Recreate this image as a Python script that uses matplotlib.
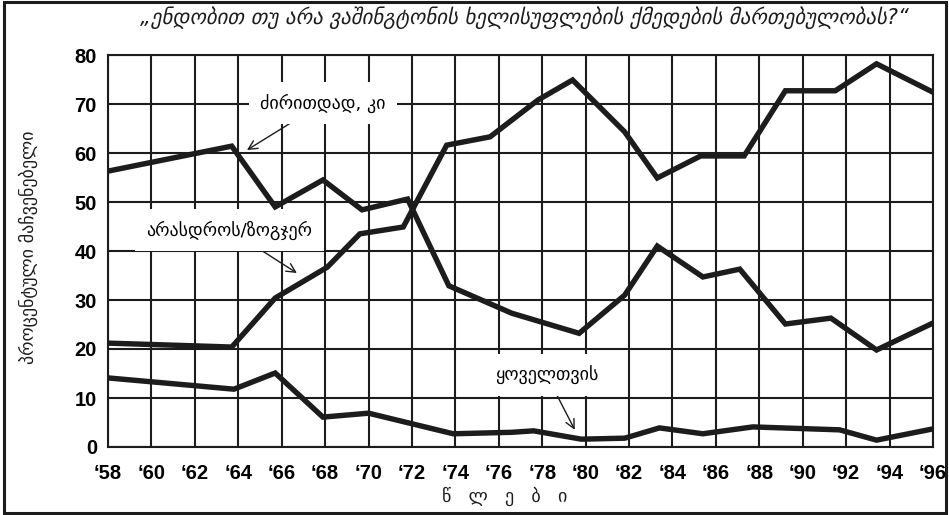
import matplotlib.pyplot as plt
from matplotlib.patches import Rectangle

# "ძირითდად, კი" (mostly yes)
kirit_x = [58, 63.7, 65.7, 67.9, 69.7, 71.8, 73.7, 76.6, 79.7, 81.8, 83.3, 85.4, 87.1, 89.2, 91.3, 93.4, 96]
kirit_y = [56.3, 61.4, 49.0, 54.5, 48.4, 50.6, 32.9, 27.3, 23.2, 31.0, 41.0, 34.7, 36.3, 25.1, 26.3, 19.8, 25.3]

# "არასდროს/ზოგჯერ" (never/sometimes)
aras_x = [58, 63.7, 65.7, 68.1, 69.6, 71.6, 73.6, 75.6, 77.8, 79.4, 81.8, 83.3, 85.3, 87.3, 89.2, 91.5, 93.4, 96]
aras_y = [21.2, 20.4, 30.4, 36.7, 43.5, 44.9, 61.6, 63.3, 70.8, 74.9, 64.3, 54.9, 59.4, 59.4, 72.7, 72.7, 78.2, 72.4]

# "ყოველთვის" (always)
yov_x = [58, 63.8, 65.7, 67.9, 70.0, 73.9, 76.6, 77.6, 79.8, 81.8, 83.4, 85.4, 87.7, 91.7, 93.4, 96]
yov_y = [14.1, 11.8, 15.1, 6.1, 6.9, 2.7, 3.0, 3.3, 1.6, 1.8, 3.9, 2.7, 4.1, 3.5, 1.4, 3.7]

years = list(range(58, 97, 2))
year_labels = ["\u2018%d" % y for y in years]
yticks = list(range(0, 81, 10))

title = "\u201eენდობით თუ არა ვაშინგტონის ხელისუფლების ქმედების მართებულობას?\u201c"
ylabel = "პროცენტული მაჩვენებელი"
xlabel = "წ   ლ   ე   ბ   ი"

ink = "#1c1c1c"

fig = plt.figure(figsize=(9.49, 5.15), dpi=100)
ax = fig.add_axes([108 / 949, 1 - 447 / 515, 825 / 949, 392 / 515])

for xs, ys in [(kirit_x, kirit_y), (aras_x, aras_y), (yov_x, yov_y)]:
    ax.plot(xs, ys, color=ink, lw=3.9, solid_joinstyle="miter", zorder=4)

ax.set_xlim(58, 96)
ax.set_ylim(0, 80)
ax.set_xticks(years)
ax.set_xticklabels(year_labels)
ax.set_yticks(yticks)
ax.grid(True, color=ink, lw=1.5)
ax.set_axisbelow(True)
ax.tick_params(length=0, labelsize=14.5)
ax.tick_params(axis="x", pad=12)
ax.tick_params(axis="y", pad=8)
for lab in ax.get_xticklabels() + ax.get_yticklabels():
    lab.set_fontweight("bold")
    lab.set_family("Liberation Sans")
for s in ax.spines.values():
    s.set_color(ink)
    s.set_linewidth(1.5)

box = dict(facecolor="white", edgecolor="none", pad=8)
arrow = dict(arrowstyle="->", color=ink, lw=1.0, mutation_scale=16)

ax.annotate("ძირითდად, კი", xy=(64.4, 60.6), xytext=(67.9, 70.2),
            ha="center", va="center", fontsize=13, bbox=box,
            arrowprops=dict(arrow, shrinkA=0, shrinkB=0), zorder=3)
ax.annotate("არასდროს/ზოგჯერ", xy=(66.7, 35.5), xytext=(63.6, 44.3),
            ha="center", va="center", fontsize=13, bbox=box,
            arrowprops=dict(arrow, shrinkA=0, shrinkB=0), zorder=3)
ax.annotate("ყოველთვის", xy=(79.5, 3.5), xytext=(78.2, 14.7),
            ha="center", va="center", fontsize=13, bbox=box,
            arrowprops=dict(arrow, shrinkA=0, shrinkB=0), zorder=3)

fig.text(524 / 949, 1 - 18 / 515, title, ha="center", va="center",
         fontsize=15, style="italic", color=ink)
fig.text(28 / 949, 1 - 247 / 515, ylabel, ha="center", va="center",
         rotation=90, fontsize=13, color=ink)
fig.text(505 / 949, 1 - 496 / 515, xlabel, ha="center", va="center",
         fontsize=13, color=ink)

fig.patches.append(Rectangle((4 / 949, 2 / 515), 942 / 949, 511 / 515,
                             transform=fig.transFigure, fill=False,
                             edgecolor=ink, lw=2.2))

fig.savefig("out.png", dpi=100)
